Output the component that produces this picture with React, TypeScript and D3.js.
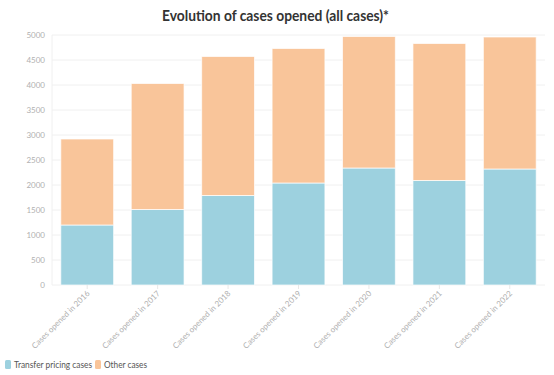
import React from "react";
import * as d3 from "d3";

const categories = [
  "Cases opened in 2016",
  "Cases opened in 2017",
  "Cases opened in 2018",
  "Cases opened in 2019",
  "Cases opened in 2020",
  "Cases opened in 2021",
  "Cases opened in 2022",
];
const transferPricing = [1200, 1510, 1790, 2040, 2340, 2090, 2320];
const otherCases = [1720, 2520, 2780, 2690, 2630, 2740, 2640];
const seriesNames = ["Transfer pricing cases", "Other cases"];
const seriesColors = ["#9dd1df", "#f9c59a"];
const yTicks = [0, 500, 1000, 1500, 2000, 2500, 3000, 3500, 4000, 4500, 5000];

const W = 554;
const H = 375;
const margin = { left: 52, right: 9, top: 35, bottom: 90 };
const font = "'Source Sans Pro', Lato, 'Open Sans', sans-serif";

export default function App() {
  const x = d3
    .scaleBand<string>()
    .domain(categories)
    .range([margin.left, W - margin.right])
    .paddingInner(0.25)
    .paddingOuter(0.125);
  const y = d3.scaleLinear().domain([0, 5000]).range([H - margin.bottom, margin.top]);

  const rows = categories.map((c, i) => ({ cat: c, tp: transferPricing[i], other: otherCases[i] }));
  const stack = d3.stack<any>().keys(["tp", "other"])(rows);

  const legendX = [5, 95];
  const legendLen = [78, 43];

  return (
    <div style={{ position: "absolute", left: 0, top: 0 }}>
      <svg width={W} height={H} style={{ display: "block", fontFamily: font }}>
        <rect width={W} height={H} fill="#fff" />
        <text x={275.5} y={21} textAnchor="middle" fontSize={15} fontWeight={700} fill="#333" textLength={227} lengthAdjust="spacingAndGlyphs">
          Evolution of cases opened (all cases)*
        </text>
        {yTicks.map((t) => (
          <g key={t}>
            <line x1={margin.left} x2={W - margin.right} y1={y(t)} y2={y(t)} stroke="#f0f0f0" strokeWidth={1} />
            <text x={margin.left - 7} y={y(t)} dy="0.35em" textAnchor="end" fontSize={8} fill="#b0b0b0">
              {t}
            </text>
          </g>
        ))}
        <line x1={margin.left} x2={margin.left} y1={margin.top} y2={H - margin.bottom} stroke="#f0f0f0" />
        {stack.map((s, si) =>
          s.map((d, i) => (
            <rect
              key={si + "-" + i}
              x={x(categories[i])!}
              width={x.bandwidth()}
              y={y(d[1])}
              height={y(d[0]) - y(d[1])}
              fill={seriesColors[si]}
              stroke="#fff"
              strokeOpacity={0.7}
              strokeWidth={1}
            />
          ))
        )}
        {categories.map((c) => {
          const cx = x(c)! + x.bandwidth() / 2;
          const ty = H - margin.bottom;
          return (
            <g key={c}>
              <line x1={cx} x2={cx} y1={ty} y2={ty + 4} stroke="#e8e8e8" />
              <text
                transform={`translate(${cx + 3},${ty + 9}) rotate(-45)`}
                textAnchor="end"
                fontSize={8}
                fill="#b0b0b0"
              >
                {c}
              </text>
            </g>
          );
        })}
        <g>
          {seriesNames.map((n, i) => {
            const lx = legendX[i];
            return (
              <g key={n}>
                <rect x={lx} y={360} width={6} height={9} rx={1.5} fill={seriesColors[i]} />
                <text x={lx + 9} y={367.5} fontSize={9.5} fill="#555" textLength={legendLen[i]} lengthAdjust="spacingAndGlyphs">
                  {n}
                </text>
              </g>
            );
          })}
        </g>
      </svg>
    </div>
  );
}
